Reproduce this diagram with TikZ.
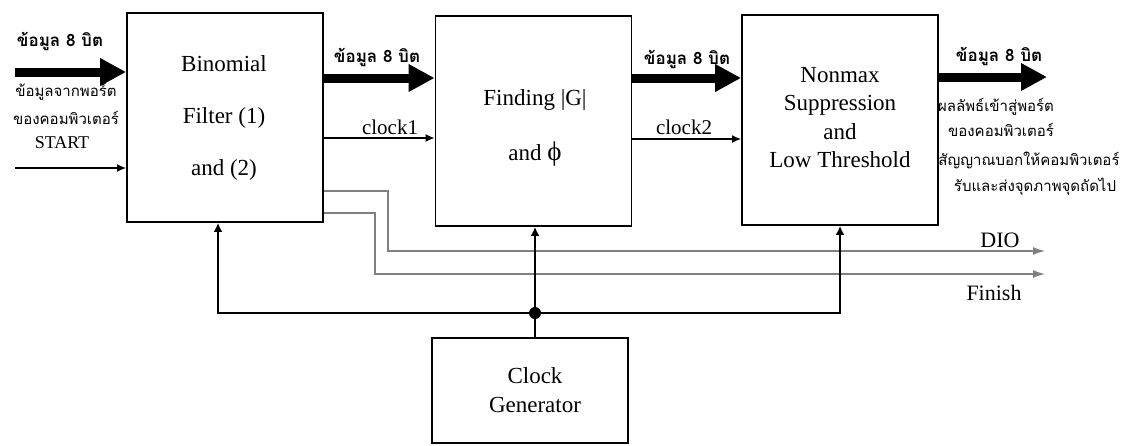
\documentclass[tikz,border=0pt]{standalone}
\usepackage{fontspec}
\setmainfont{Liberation Serif}
\newfontfamily\thai[Script=Thai]{Loma}
\usetikzlibrary{arrows.meta}
\tikzset{
  blk/.style={draw, line width=1.8pt, minimum width=196pt},
  txt/.style={font=\fontsize{23}{26}\selectfont, inner sep=0pt, anchor=base},
  sig/.style={font=\fontsize{21}{23}\selectfont, inner sep=0pt},
  thl/.style={font=\thai\fontsize{15}{17}\selectfont, inner sep=0pt},
  thb/.style={font=\thai\bfseries\fontsize{17}{19}\selectfont, inner sep=0pt},
  fat/.style={line width=9pt, -{Triangle[length=26pt,width=26pt]}},
  thin/.style={line width=1.5pt, -{Latex[length=9pt,width=8pt]}},
  wire/.style={gray, line width=1.3pt, -{Latex[length=12pt,width=8pt]}},
  bus/.style={line width=1.8pt},
  up/.style={line width=1.8pt, -{Latex[length=9pt,width=9pt]}}
}
\begin{document}
\begin{tikzpicture}[x=1pt,y=-1pt]
\useasboundingbox (0,0) rectangle (1139,445);
% blocks
\node[blk, minimum height=209pt] (b1) at (225,117.5) {};
\node[blk, minimum height=210pt] (b2) at (533.5,121) {};
\node[blk, minimum height=210pt] (b3) at (840,120) {};
\node[blk, minimum height=105pt] (cg) at (530,390.5) {};
% block texts
\node[txt] (t1a) at (224,71) {Binomial};
\node[txt] (t1b) at (224,123) {Filter (1)};
\node[txt] (t1c) at (224,175) {and (2)};
\node[txt] (t2a) at (535,105) {Finding |G|};
\node[txt] (t2b) at (535,160) {and {\fontsize{27}{27}\selectfont ϕ}};
\node[txt] (t3a) at (840,82) {Nonmax};
\node[txt] (t3b) at (840,110) {Suppression};
\node[txt] (t3c) at (840,139) {and};
\node[txt] (t3d) at (840,167) {Low Threshold};
\node[txt] (t4a) at (535,383) {Clock};
\node[txt] (t4b) at (535,412) {Generator};
% input side
\coordinate (in1) at (15,72);
\coordinate (in2) at (15,168);
\draw[fat] (in1) -- (in1 -| b1.west);
\draw[thin] (in2) -- (in2 -| b1.west);
\node[thb] (l1) at (60,41) {ข้อมูล 8 บิต};
\node[thl] (l2) at (66,92) {ข้อมูลจากพอร์ต};
\node[thl] (l3) at (66,118) {ของคอมพิวเตอร์};
\node[sig, font=\fontsize{18}{20}\selectfont] (l4) at (62,143) {START};
% b1 -> b2
\draw[fat] (b1.east |- 0,78) -- (b2.west |- 0,78);
\node[thb] (l5) at (377,57) {ข้อมูล 8 บิต};
\draw[thin] (b1.east |- 0,138) -- (b2.west |- 0,138);
\node[sig] (l6) at (390,127) {clock1};
% b2 -> b3
\draw[fat] (b2.east |- 0,78) -- (b3.west |- 0,78);
\node[thb] (l7) at (687,59) {ข้อมูล 8 บิต};
\draw[thin] (b2.east |- 0,139) -- (b3.west |- 0,139);
\node[sig] (l8) at (684,127) {clock2};
% output
\coordinate (out) at (1047,77);
\draw[fat] (b3.east |- out) -- (out);
\node[thb] (l9) at (999,56) {ข้อมูล 8 บิต};
\node[thl] (l10) at (996,107) {ผลลัพธ์เข้าสู่พอร์ต};
\node[thl] (l11) at (1001,130) {ของคอมพิวเตอร์};
\node[thl] (l12) at (1029,160) {สัญญาณบอกให้คอมพิวเตอร์};
\node[thl] (l13) at (1035,187) {รับและส่งจุดภาพจุดถัดไป};
% DIO / Finish wires
\coordinate (dio) at (1045,251);
\coordinate (fin) at (1045,274);
\draw[wire] (b1.east |- 0,191) -| (388,251) -- (dio);
\draw[wire] (b1.east |- 0,213) -| (375,274) -- (fin);
\node[sig, font=\fontsize{22}{24}\selectfont] (l14) at (1000,240) {DIO};
\node[sig, font=\fontsize{22}{24}\selectfont] (l15) at (994,293) {Finish};
% clock bus
\coordinate (j) at (535,313);
\draw[bus] (cg.north -| j) -- (j);
\draw[up] (j) -- (b2.south -| j);
\draw[up] (j) -| (b1.south -| 218,0);
\draw[up] (j) -| (b3.south);
\fill (j) circle (6pt);
\end{tikzpicture}
\end{document}
